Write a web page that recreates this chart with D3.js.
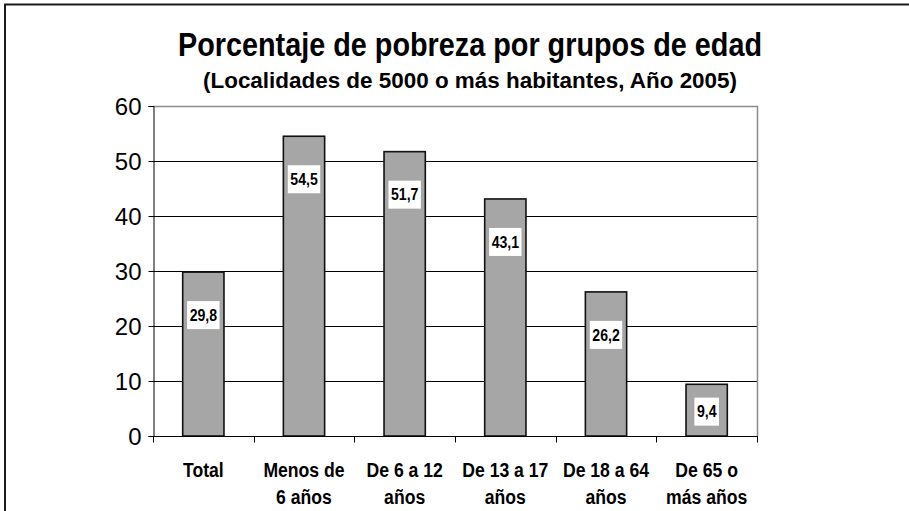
<!DOCTYPE html>
<html>
<head>
<meta charset="utf-8">
<script src="https://cdn.jsdelivr.net/npm/d3@7"></script>
<style>
  html, body { margin: 0; padding: 0; background: #fff; }
  svg { display: block; font-family: "Liberation Sans", Arial, sans-serif; }
</style>
</head>
<body>
<svg id="chart" width="909" height="511"></svg>
<script>
const titleText = "Porcentaje de pobreza por grupos de edad";
const subtitleText = "(Localidades de 5000 o más habitantes, Año 2005)";
const categories = [
  ["Total"],
  ["Menos de", "6 años"],
  ["De 6 a 12", "años"],
  ["De 13 a 17", "años"],
  ["De 18 a 64", "años"],
  ["De 65 o", "más años"]
];
const values = [29.8, 54.5, 51.7, 43.1, 26.2, 9.4];
const yTicks = [0, 10, 20, 30, 40, 50, 60];

const svg = d3.select("#chart");
const W = 909, H = 511;
const mLeft = 153, mRight = 757, mTop = 106, mBottom = 436;
const squeeze = 0.88;

function condense(sel, f) {
  sel.each(function() {
    const w = this.getComputedTextLength();
    d3.select(this).attr("textLength", w * f).attr("lengthAdjust", "spacingAndGlyphs");
  });
}

// outer frame (extends past right/bottom edges)
svg.append("rect")
  .attr("x", 5).attr("y", 4.5)
  .attr("width", W + 10).attr("height", H + 10)
  .attr("fill", "none").attr("stroke", "#1a1a1a").attr("stroke-width", 2);

const x = d3.scaleBand().domain(d3.range(categories.length)).range([mLeft, mRight]).padding(0);
const y = d3.scaleLinear().domain([0, 60]).range([mBottom, mTop]);

// gridlines
svg.append("g").selectAll("line")
  .data(yTicks.filter(t => t > 0 && t < 60))
  .join("line")
  .attr("x1", mLeft).attr("x2", mRight)
  .attr("y1", d => Math.round(y(d)) + 0.5).attr("y2", d => Math.round(y(d)) + 0.5)
  .attr("stroke", "#000").attr("stroke-width", 1);

// plot border top & right (gray)
svg.append("path")
  .attr("d", `M${mLeft},${mTop + 0.5}H${mRight + 0.5}V${mBottom}`)
  .attr("fill", "none").attr("stroke", "#8c8c8c").attr("stroke-width", 1.5);

// bars
const barW = x.bandwidth() * 0.41;
svg.append("g").selectAll("rect")
  .data(values)
  .join("rect")
  .attr("x", (d, i) => x(i) + x.bandwidth() / 2 - barW / 2)
  .attr("y", d => y(d))
  .attr("width", barW)
  .attr("height", d => y(0) - y(d))
  .attr("fill", "#a6a6a6")
  .attr("stroke", "#111").attr("stroke-width", 1.6);

// y axis
const yAxis = svg.append("g")
  .attr("transform", `translate(${mLeft + 0.5},0)`)
  .call(d3.axisLeft(y).tickValues(yTicks).tickSize(5).tickPadding(7).tickFormat(d3.format("d")));
yAxis.attr("font-size", null).attr("font-family", null);
yAxis.select(".domain").attr("stroke", "#000");
yAxis.selectAll(".tick line").attr("stroke", "#000");
yAxis.selectAll(".tick text")
  .attr("font-size", 24).attr("fill", "#000")
  .attr("dy", "0.36em");

// x axis with ticks on category boundaries
const xAxisG = svg.append("g").attr("transform", `translate(0,${mBottom + 0.5})`);
xAxisG.append("line").attr("x1", mLeft).attr("x2", mRight + 1).attr("stroke", "#000");
xAxisG.selectAll("line.tk")
  .data(d3.range(categories.length + 1))
  .join("line").attr("class", "tk")
  .attr("x1", i => Math.round(mLeft + i * x.step()) + 0.5)
  .attr("x2", i => Math.round(mLeft + i * x.step()) + 0.5)
  .attr("y1", 0).attr("y2", 6).attr("stroke", "#000");

// x labels (one text element per line)
const xLines = [];
categories.forEach((lines, i) => lines.forEach((ln, j) => xLines.push({ i, j, ln })));
const xl = svg.append("g").selectAll("text")
  .data(xLines)
  .join("text")
  .attr("x", d => x(d.i) + x.bandwidth() / 2)
  .attr("y", d => 477 + d.j * 27)
  .attr("text-anchor", "middle")
  .attr("font-weight", "bold")
  .attr("font-size", 20)
  .attr("fill", "#000")
  .text(d => d.ln);
condense(xl, squeeze);

// data labels
const lab = svg.append("g").selectAll("g")
  .data(values)
  .join("g")
  .attr("transform", (d, i) => {
    const cx = x(i) + x.bandwidth() / 2;
    const cy = Math.min(y(d) + 43, (y(d) + y(0)) / 2 + 1.5);
    return `translate(${cx},${cy})`;
  });
lab.append("text")
  .attr("text-anchor", "middle")
  .attr("dy", "0.36em")
  .attr("font-weight", "bold")
  .attr("font-size", 16)
  .attr("fill", "#000")
  .text(d => d3.format(".1f")(d).replace(".", ","));
condense(lab.selectAll("text"), squeeze);
lab.each(function() {
  const g = d3.select(this);
  const w = +g.select("text").attr("textLength");
  g.insert("rect", "text")
    .attr("x", -w / 2 - 2.5).attr("y", -14)
    .attr("width", w + 5).attr("height", 28)
    .attr("fill", "#fff");
});

// titles
svg.append("text")
  .attr("x", 470).attr("y", 56)
  .attr("text-anchor", "middle")
  .attr("font-weight", "bold").attr("font-size", 33)
  .attr("textLength", 584).attr("lengthAdjust", "spacingAndGlyphs")
  .text(titleText);
svg.append("text")
  .attr("x", 470).attr("y", 88)
  .attr("text-anchor", "middle")
  .attr("font-weight", "bold").attr("font-size", 22)
  .attr("textLength", 534).attr("lengthAdjust", "spacingAndGlyphs")
  .text(subtitleText);
</script>
</body>
</html>
